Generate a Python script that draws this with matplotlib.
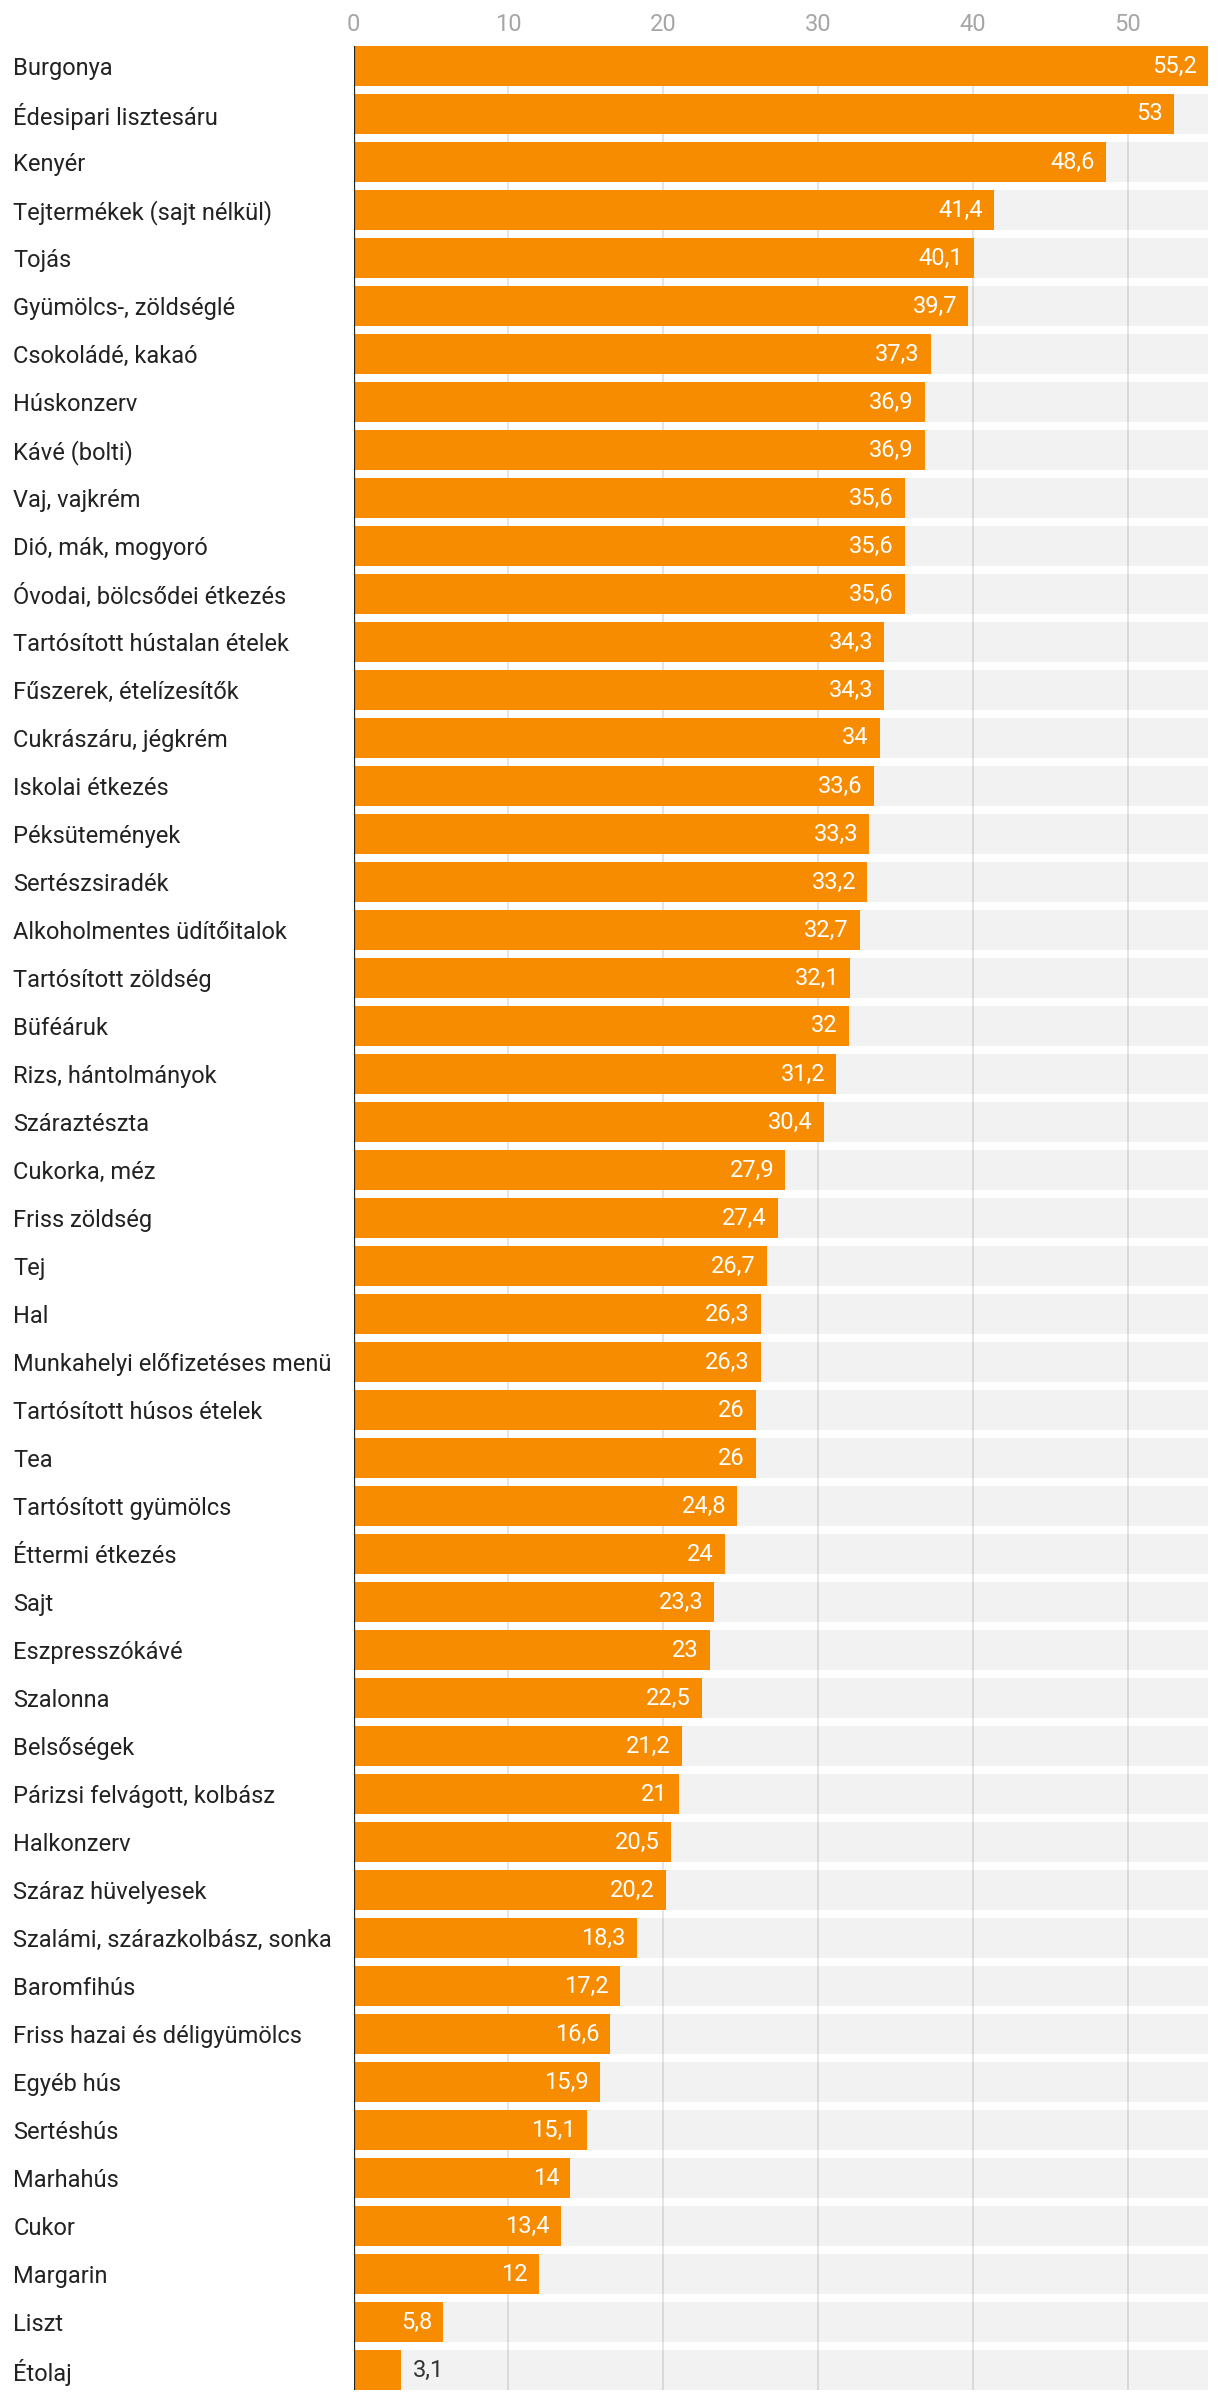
import matplotlib.pyplot as plt

plt.rcParams["font.family"] = ["Roboto", "DejaVu Sans"]

categories = [
    "Burgonya", "Édesipari lisztesáru", "Kenyér", "Tejtermékek (sajt nélkül)",
    "Tojás", "Gyümölcs-, zöldséglé", "Csokoládé, kakaó", "Húskonzerv",
    "Kávé (bolti)", "Vaj, vajkrém", "Dió, mák, mogyoró", "Óvodai, bölcsődei étkezés",
    "Tartósított hústalan ételek", "Fűszerek, ételízesítők", "Cukrászáru, jégkrém",
    "Iskolai étkezés", "Péksütemények", "Sertészsiradék", "Alkoholmentes üdítőitalok",
    "Tartósított zöldség", "Büféáruk", "Rizs, hántolmányok", "Száraztészta",
    "Cukorka, méz", "Friss zöldség", "Tej", "Hal", "Munkahelyi előfizetéses menü",
    "Tartósított húsos ételek", "Tea", "Tartósított gyümölcs", "Éttermi étkezés",
    "Sajt", "Eszpresszókávé", "Szalonna", "Belsőségek", "Párizsi felvágott, kolbász",
    "Halkonzerv", "Száraz hüvelyesek", "Szalámi, szárazkolbász, sonka", "Baromfihús",
    "Friss hazai és déligyümölcs", "Egyéb hús", "Sertéshús", "Marhahús", "Cukor",
    "Margarin", "Liszt", "Étolaj",
]
values = [
    55.2, 53, 48.6, 41.4, 40.1, 39.7, 37.3, 36.9, 36.9, 35.6, 35.6, 35.6,
    34.3, 34.3, 34, 33.6, 33.3, 33.2, 32.7, 32.1, 32, 31.2, 30.4, 27.9,
    27.4, 26.7, 26.3, 26.3, 26, 26, 24.8, 24, 23.3, 23, 22.5, 21.2, 21,
    20.5, 20.2, 18.3, 17.2, 16.6, 15.9, 15.1, 14, 13.4, 12, 5.8, 3.1,
]
x_ticks = [0, 10, 20, 30, 40, 50]

ORANGE = "#f88c00"
BG = "#f2f2f2"

W, H = 1220, 2400
fig = plt.figure(figsize=(W / 100, H / 100), dpi=100)
left, right, top, bottom = 353.5, 1208, 46, 2390
ax = fig.add_axes([left / W, 1 - bottom / H, (right - left) / W, (bottom - top) / H])

pos = list(range(len(categories)))
bar_h = 40 / 48
vmax = max(values)

# grey track behind each bar
ax.barh(pos, [vmax] * len(pos), height=bar_h, color=BG, zorder=1)
for t in x_ticks[1:]:
    ax.axvline(t, color="black", alpha=0.1, lw=1.5, zorder=2)
ax.barh(pos, values, height=bar_h, color=ORANGE, zorder=3)
ax.axvline(0, color="#222222", lw=1.6, zorder=4)

for i, v in enumerate(values):
    txt = f"{v:g}".replace(".", ",")
    if v > 5:
        ax.annotate(txt, (v, i), xytext=(-8, 0), textcoords="offset points",
                    ha="right", va="center", color="white", fontsize=17, zorder=5)
    else:
        ax.annotate(txt, (v, i), xytext=(8, 0), textcoords="offset points",
                    ha="left", va="center", color="#333333", fontsize=17, zorder=5)

ax.set_xlim(0, vmax)
ax.set_ylim(len(pos) - 1 + bar_h / 2, -bar_h / 2)

ax.xaxis.tick_top()
ax.set_xticks(x_ticks)
ax.set_xticklabels([str(t) for t in x_ticks])
ax.tick_params(axis="x", length=0, pad=7, labelsize=17, labelcolor="#a6a6a6")

ax.set_yticks(pos)
ax.set_yticklabels(categories)
ax.tick_params(axis="y", length=0, pad=245, labelsize=17, labelcolor="#222222")
for lbl in ax.get_yticklabels():
    lbl.set_ha("left")

for s in ax.spines.values():
    s.set_visible(False)

fig.savefig("out.png", dpi=100, facecolor="white")
